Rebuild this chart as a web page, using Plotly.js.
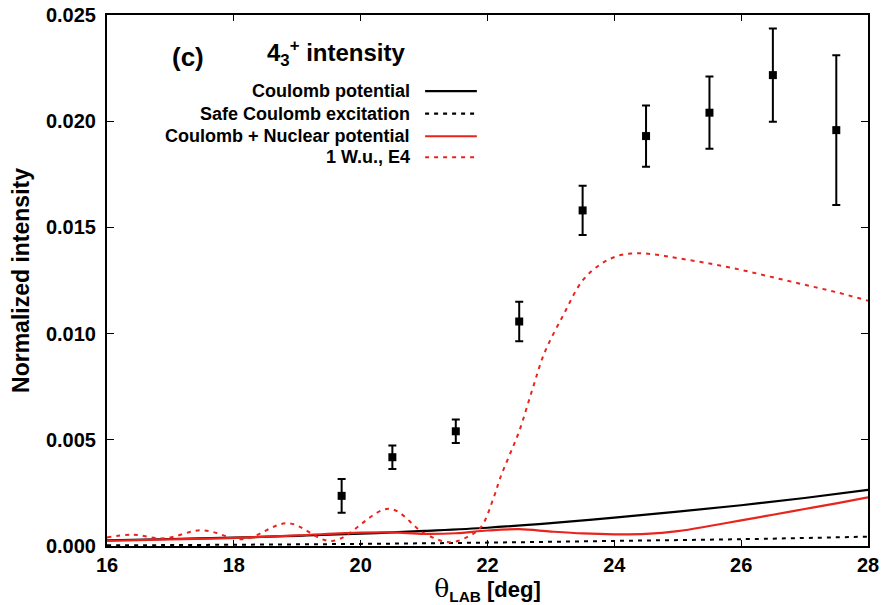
<!DOCTYPE html>
<html>
<head>
<meta charset="utf-8">
<script src="https://cdn.plot.ly/plotly-3.0.1.min.js"></script>
<style>html,body{margin:0;padding:0;background:#fff;}#chart{width:889px;height:605px;}</style>
</head>
<body>
<div id="chart"></div>
<script>
// Experimental data
var expX = [19.7, 20.5, 21.5, 22.5, 23.5, 24.5, 25.5, 26.5, 27.5];
var expY = [0.00236, 0.00418, 0.00540, 0.01057, 0.01580, 0.01930, 0.02040, 0.02217, 0.01958];
var expErr = [0.00080, 0.00055, 0.00055, 0.00093, 0.00116, 0.00144, 0.00170, 0.00220, 0.00352];

// Coulomb potential (black solid)
var coulX = [16, 17, 18, 19, 20, 21, 22, 23, 24, 25, 26, 27, 28];
var coulY = [0.00027, 0.00033, 0.00039, 0.00048, 0.00058, 0.00071, 0.00086, 0.00108, 0.00134, 0.00162, 0.00192, 0.00226, 0.00264];

// Safe Coulomb excitation (black dashed)
var safeX = [16, 18, 20, 22, 24, 26, 28];
var safeY = [0.00003, 0.00006, 0.00010, 0.00016, 0.00024, 0.00032, 0.00044];

// Coulomb + Nuclear potential (red solid)
var nucX = [16, 17, 18, 19, 20, 20.5, 21, 21.5, 22, 22.5, 23, 23.5, 24, 24.5, 25, 25.5, 26, 26.5, 27, 27.5, 28];
var nucY = [0.00024, 0.00031, 0.00038, 0.00050, 0.00063, 0.00064, 0.00057, 0.00060, 0.00073, 0.00079, 0.00068, 0.00059, 0.00055, 0.00057, 0.00070, 0.00094, 0.00121, 0.00147, 0.00174, 0.00201, 0.00229];

// 1 W.u., E4 (red dashed)
var e4X = [16.0, 16.4, 16.9, 17.5, 18.15, 18.85, 19.55, 20.45, 21.0, 21.4, 21.7, 21.9, 22.1, 22.2, 22.35, 22.5, 22.7, 22.9, 23.2, 23.5, 23.8, 24.1, 24.4, 24.7, 25.0, 25.5, 26.0, 26.5, 27.0, 27.5, 28.0];
var e4Y = [0.00040, 0.00053, 0.00036, 0.00074, 0.00032, 0.00107, 0.00024, 0.00175, 0.00060, 0.00018, 0.00045, 0.00090, 0.00230, 0.00320, 0.00430, 0.00540, 0.00730, 0.00910, 0.01090, 0.01250, 0.01330, 0.01370, 0.01378, 0.01370, 0.01355, 0.01330, 0.01300, 0.01265, 0.01230, 0.01195, 0.01155];

var legendNames = ["Coulomb potential", "Safe Coulomb excitation", "Coulomb + Nuclear potential", "1 W.u., E4"];
var xTicks = [16, 18, 20, 22, 24, 26, 28];
var yTicks = [0, 0.005, 0.010, 0.015, 0.020, 0.025];

var RED = "#e8241c";
var styles = [
  {color: "#000000", dash: "solid"},
  {color: "#000000", dash: "4px,5px"},
  {color: RED, dash: "solid"},
  {color: RED, dash: "4px,5px"}
];

var traces = [
  {x: coulX, y: coulY, mode: "lines", line: {color: styles[0].color, width: 2.2, dash: styles[0].dash, shape: "spline"}, name: legendNames[0]},
  {x: safeX, y: safeY, mode: "lines", line: {color: styles[1].color, width: 2, dash: styles[1].dash, shape: "spline"}, name: legendNames[1]},
  {x: nucX, y: nucY, mode: "lines", line: {color: styles[2].color, width: 2.2, dash: styles[2].dash, shape: "spline"}, name: legendNames[2]},
  {x: e4X, y: e4Y, mode: "lines", line: {color: styles[3].color, width: 2, dash: styles[3].dash, shape: "spline"}, name: legendNames[3]},
  {x: expX, y: expY, mode: "markers", marker: {symbol: "square", size: 8, color: "#000"},
   error_y: {type: "data", array: expErr, visible: true, color: "#000", thickness: 2, width: 4}, name: "data"}
];

var FONT = "Liberation Sans, Arial, Helvetica, sans-serif";
var annotations = [
  {xref: "paper", yref: "paper", x: 0.106, y: 0.921, text: "<b>(c)</b>", showarrow: false,
   font: {family: FONT, size: 26, color: "#000"}, xanchor: "center", yanchor: "middle"},
  {xref: "paper", yref: "paper", x: 0.207, y: 0.928, text: "<b>4<sub>3</sub><sup>+</sup> intensity</b>", showarrow: false,
   font: {family: FONT, size: 24, color: "#000"}, xanchor: "left", yanchor: "middle"}
];
var shapes = [];
var rowY = [0.8566, 0.8142, 0.7717, 0.7321];
for (var i = 0; i < legendNames.length; i++) {
  annotations.push({xref: "paper", yref: "paper", x: 0.401, y: rowY[i], text: "<b>" + legendNames[i] + "</b>",
    showarrow: false, xanchor: "right", yanchor: "middle", font: {family: FONT, size: 18, color: "#000"}});
  shapes.push({type: "line", xref: "paper", yref: "paper", x0: 0.418, x1: 0.486, y0: rowY[i], y1: rowY[i],
    line: {color: styles[i].color, width: 2.2, dash: styles[i].dash}});
}

var layout = {
  width: 889, height: 605,
  margin: {l: 107, r: 21, t: 15, b: 59},
  paper_bgcolor: "#fff", plot_bgcolor: "#fff",
  showlegend: false,
  font: {family: FONT, color: "#000"},
  xaxis: {
    range: [16, 28], tickvals: xTicks, ticktext: xTicks.map(String),
    ticks: "inside", ticklen: 6, tickwidth: 1, tickcolor: "#000",
    showline: true, linecolor: "#000", linewidth: 2, mirror: "ticks",
    showgrid: false, zeroline: false,
    tickfont: {family: FONT, size: 20, color: "#000", weight: "bold"},
    title: {text: "<span style=\"font-family:'DejaVu Serif','Liberation Serif',serif;font-weight:normal;font-size:25px\">θ</span><sub>LAB</sub> [deg]",
      font: {family: FONT, size: 22, color: "#000", weight: "bold"}, standoff: 6}
  },
  yaxis: {
    range: [0, 0.025], tickvals: yTicks, tickformat: ".3f",
    ticks: "inside", ticklen: 7, tickwidth: 1, tickcolor: "#000",
    showline: true, linecolor: "#000", linewidth: 2, mirror: "ticks",
    showgrid: false, zeroline: false, ticklabelstandoff: 5,
    tickfont: {family: FONT, size: 20, color: "#000", weight: "bold"},
    title: {text: "Normalized intensity", font: {family: FONT, size: 23, color: "#000", weight: "bold"}, standoff: 10}
  },
  annotations: annotations,
  shapes: shapes
};

Plotly.newPlot("chart", traces, layout, {displayModeBar: false, staticPlot: true});
</script>
</body>
</html>
